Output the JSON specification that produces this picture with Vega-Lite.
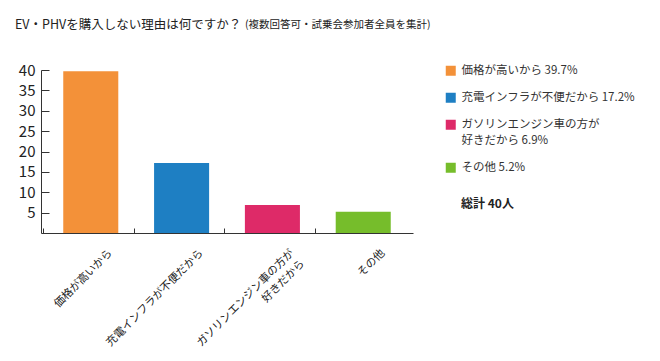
{
  "$schema": "https://vega.github.io/schema/vega-lite/v6.json",
  "width": 372,
  "height": 163,
  "autosize": "none",
  "padding": {"left": 41, "top": 70, "right": 247, "bottom": 128},
  "background": "white",
  "config": {
    "font": "Noto Sans CJK JP",
    "view": {"stroke": null}
  },
  "title": {
    "text": "EV・PHVを購入しない理由は何ですか？",
    "subtitle": "(複数回答可・試乗会参加者全員を集計)",
    "anchor": "start",
    "frame": "group",
    "fontSize": 12.5,
    "fontWeight": "normal",
    "color": "#222222",
    "font": "Noto Sans CJK JP",
    "subtitleFont": "Noto Sans CJK JP",
    "subtitleFontSize": 10.5,
    "subtitleColor": "#222222",
    "subtitlePadding": -11,
    "dx": -26,
    "offset": 32,
    "encode": {
      "subtitle": {"update": {"dx": {"value": 204}}}
    }
  },
  "data": {
    "values": [
      {"reason": "価格が高いから", "pct": 39.7, "legend": "価格が高いから 39.7%"},
      {"reason": "充電インフラが不便だから", "pct": 17.2, "legend": "充電インフラが不便だから 17.2%"},
      {"reason": "ガソリンエンジン車の方が好きだから", "pct": 6.9, "legend": "ガソリンエンジン車の方が好きだから 6.9%"},
      {"reason": "その他", "pct": 5.2, "legend": "その他 5.2%"}
    ]
  },
  "mark": {"type": "bar"},
  "encoding": {
    "x": {
      "field": "reason",
      "type": "nominal",
      "sort": null,
      "scale": {"paddingInner": 0.394, "paddingOuter": 0.245},
      "axis": {
        "title": null,
        "labelAngle": -45,
        "labelAlign": "right",
        "labelBaseline": "middle",
        "labelExpr": "datum.label == 'ガソリンエンジン車の方が好きだから' ? ['ガソリンエンジン車の方が', '好きだから'] : datum.label",
        "labelFontSize": 11,
        "labelColor": "#222222",
        "labelLineHeight": 15,
        "labelPadding": 23,
        "labelOffset": 20,
        "labelLimit": 0,
        "labelOverlap": false,
        "bandPosition": -0.364,
        "tickSize": -5,
        "tickColor": "#333333",
        "domainColor": "#333333",
        "grid": false
      }
    },
    "y": {
      "field": "pct",
      "type": "quantitative",
      "scale": {"domain": [0, 40]},
      "axis": {
        "title": null,
        "values": [5, 10, 15, 20, 25, 30, 35, 40],
        "labelFontSize": 15,
        "labelColor": "#222222",
        "labelPadding": 14,
        "tickSize": -8,
        "tickColor": "#333333",
        "domainColor": "#333333",
        "grid": false
      }
    },
    "color": {
      "field": "legend",
      "type": "nominal",
      "sort": null,
      "scale": {"range": ["#F39139", "#1E7FC3", "#DE2A68", "#76BD2B"]},
      "legend": {
        "orient": "none",
        "legendX": 404,
        "legendY": -5,
        "title": "総計 40人",
        "titleOrient": "bottom",
        "titleFontSize": 12,
        "titleFontWeight": "bold",
        "titleColor": "#222222",
        "titlePadding": 26,
        "symbolType": "square",
        "symbolSize": 100,
        "symbolStrokeWidth": 0,
        "labelFontSize": 11.5,
        "labelColor": "#333333",
        "labelOffset": 5,
        "labelLimit": 0,
        "rowPadding": 14,
        "labelExpr": "indexof(datum.label, 'ガソリンエンジン車の方が') == 0 ? ['ガソリンエンジン車の方が', replace(datum.label, 'ガソリンエンジン車の方が', '')] : datum.label",
        "encode": {
          "title": {"update": {"dx": {"value": 16}}},
          "labels": {"update": {"lineHeight": {"value": 16}}}
        }
      }
    }
  }
}
